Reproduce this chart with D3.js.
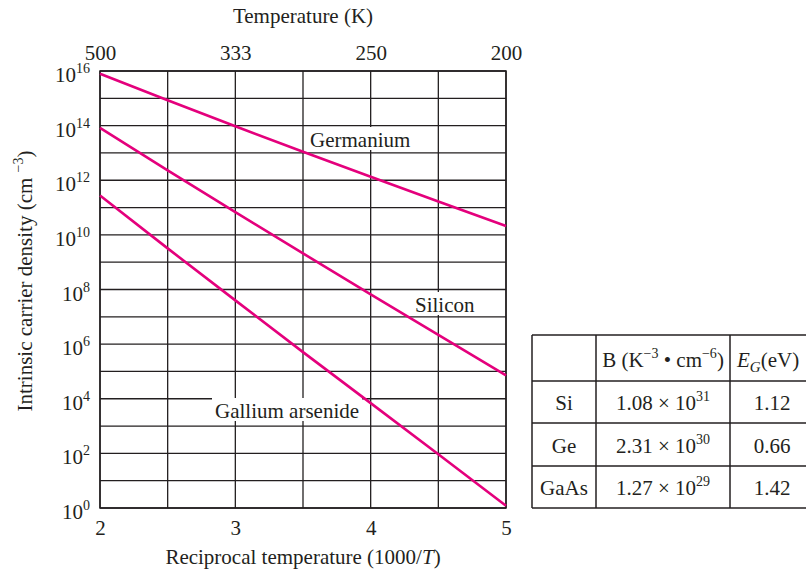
<!DOCTYPE html>
<html>
<head>
<meta charset="utf-8">
<script src="https://cdn.jsdelivr.net/npm/d3@7"></script>
<style>
  html, body { margin: 0; padding: 0; background: #fff; }
  svg { display: block; }
  text { font-family: "Liberation Serif", "Times New Roman", serif; fill: #231f20; }
</style>
</head>
<body>
<svg id="chart" width="806" height="571"></svg>
<script>
// ---- data ----
const recipT = [2, 2.5, 3, 3.5, 4, 4.5, 5];
const germanium = [7.9e15, 8.5e14, 9.5e13, 1.1e13, 1.35e12, 1.66e11, 2.1e10];
const silicon   = [8.3e13, 2.3e12, 6.8e10, 2.1e9, 6.6e7, 2.2e6, 7.2e4];
const gaas      = [2.75e11, 3.2e9, 4.0e7, 5.1e5, 6.9e3, 93, 1.2];
const seriesNames = ["Germanium", "Silicon", "Gallium arsenide"];

const xTicks = [2, 3, 4, 5];
const topTickLabels = ["500", "333", "250", "200"];
const gridX = [2, 2.5, 3, 3.5, 4, 4.5, 5];
const gridExp = d3.range(0, 17);
const yTickExp = [0, 2, 4, 6, 8, 10, 12, 14, 16];

const tableMaterials = ["Si", "Ge", "GaAs"];
const tableBMantissa = ["1.08", "2.31", "1.27"];
const tableBExp = ["31", "30", "29"];
const tableEg = ["1.12", "0.66", "1.42"];

// ---- layout ----
const L = 100, R = 506, T = 71, B = 508;
const FS = 21, SUP = 14;
const lineColor = "#e4007c";
const ink = "#231f20";

const svg = d3.select("#chart");
const x = d3.scaleLinear().domain([2, 5]).range([L, R]);
const y = d3.scaleLog().domain([1, 1e16]).range([B, T]);

// grid
const grid = svg.append("g").attr("stroke", ink).attr("stroke-width", 1.3);
grid.selectAll("line.v").data(gridX).join("line").attr("class", "v")
  .attr("x1", d => x(d)).attr("x2", d => x(d)).attr("y1", T).attr("y2", B);
grid.selectAll("line.h").data(gridExp).join("line").attr("class", "h")
  .attr("x1", L).attr("x2", R).attr("y1", d => y(Math.pow(10, d))).attr("y2", d => y(Math.pow(10, d)));
svg.append("rect").attr("x", L).attr("y", T).attr("width", R - L).attr("height", B - T)
  .attr("fill", "none").attr("stroke", ink).attr("stroke-width", 1.5);

// bottom axis labels
const bottomAxis = d3.axisBottom(x).tickValues(xTicks).tickSize(0).tickFormat(d3.format("d"));
const gb = svg.append("g").attr("transform", `translate(0,${B})`).call(bottomAxis);
gb.select(".domain").remove();
gb.selectAll("text").attr("font-size", FS).attr("font-family", null).attr("fill", ink)
  .attr("dy", null).attr("y", 27);

// top axis labels
const topAxis = d3.axisTop(x).tickValues(xTicks).tickSize(0)
  .tickFormat((d, i) => topTickLabels[i]);
const gt = svg.append("g").attr("transform", `translate(0,${T})`).call(topAxis);
gt.select(".domain").remove();
gt.selectAll("text").attr("font-size", FS).attr("font-family", null).attr("fill", ink)
  .attr("dy", null).attr("y", -11);

// y tick labels with superscripts
const yl = svg.append("g");
yTickExp.forEach(e => {
  const t = yl.append("text").attr("x", 90).attr("y", y(Math.pow(10, e)) + 11)
    .attr("text-anchor", "end").attr("font-size", FS);
  t.append("tspan").text("10");
  t.append("tspan").attr("font-size", SUP).attr("dy", -9).text(e);
});

// titles
svg.append("text").attr("x", (L + R) / 2).attr("y", 23).attr("text-anchor", "middle")
  .attr("font-size", FS).text("Temperature (K)");
const xt = svg.append("text").attr("x", (L + R) / 2).attr("y", 564).attr("text-anchor", "middle")
  .attr("font-size", FS);
xt.append("tspan").text("Reciprocal temperature (1000/");
xt.append("tspan").attr("font-style", "italic").text("T");
xt.append("tspan").text(")");

const yt = svg.append("text").attr("transform", "translate(32,281) rotate(-90)")
  .attr("text-anchor", "middle").attr("font-size", FS);
yt.append("tspan").text("Intrinsic carrier density (cm ");
yt.append("tspan").attr("font-size", SUP).attr("dy", -9).text("\u22123");
yt.append("tspan").attr("dy", 9).text(")");

// series labels with white backgrounds
const labelPos = [[310, 147], [415, 312], [215, 418]];
seriesNames.forEach((name, i) => {
  const g = svg.append("g");
  const t = g.append("text").attr("x", labelPos[i][0]).attr("y", labelPos[i][1])
    .attr("font-size", FS).text(name);
  const bb = t.node().getBBox();
  g.insert("rect", "text").attr("x", bb.x - 3).attr("y", labelPos[i][1] - 20)
    .attr("width", bb.width + 6).attr("height", 23).attr("fill", "#fff");
});

// curves
const line = d3.line().x(d => x(d[0])).y(d => y(d[1]));
[germanium, silicon, gaas].forEach(vals => {
  svg.append("path").datum(recipT.map((t, i) => [t, vals[i]]))
    .attr("d", line).attr("fill", "none").attr("stroke", lineColor).attr("stroke-width", 2.6);
});

// table
const colX = [532, 596, 730, 830];
const rowY = [335, 381, 423, 466, 508];
const tg = svg.append("g");
const tl = tg.append("g").attr("stroke", ink).attr("stroke-width", 1.5);
rowY.forEach(ry => tl.append("line").attr("x1", colX[0]).attr("x2", colX[3]).attr("y1", ry).attr("y2", ry));
colX.forEach(cx => tl.append("line").attr("x1", cx).attr("x2", cx).attr("y1", rowY[0]).attr("y2", rowY[4]));

const cMid = i => (colX[i] + colX[i + 1]) / 2;
const rBase = j => (rowY[j] + rowY[j + 1]) / 2 + 8;

// header
const h1 = tg.append("text").attr("x", cMid(1)).attr("y", rBase(0) + 1).attr("text-anchor", "middle").attr("font-size", FS);
h1.append("tspan").text("B (K");
h1.append("tspan").attr("font-size", SUP).attr("dy", -9).text("\u22123");
h1.append("tspan").attr("dy", 9).text(" \u2022 cm");
h1.append("tspan").attr("font-size", SUP).attr("dy", -9).text("\u22126");
h1.append("tspan").attr("dy", 9).text(")");
const h2 = tg.append("text").attr("x", 737).attr("y", rBase(0) + 1).attr("font-size", FS);
h2.append("tspan").attr("font-style", "italic").text("E");
h2.append("tspan").attr("font-style", "italic").attr("font-size", SUP + 1).attr("dy", 5).text("G");
h2.append("tspan").attr("dy", -5).text("(eV)");

tableMaterials.forEach((m, j) => {
  const by = rBase(j + 1);
  tg.append("text").attr("x", cMid(0)).attr("y", by).attr("text-anchor", "middle").attr("font-size", FS).text(m);
  const bt = tg.append("text").attr("x", cMid(1)).attr("y", by).attr("text-anchor", "middle").attr("font-size", FS);
  bt.append("tspan").text(tableBMantissa[j] + " \u00d7 10");
  bt.append("tspan").attr("font-size", SUP).attr("dy", -9).text(tableBExp[j]);
  tg.append("text").attr("x", 772).attr("y", by).attr("text-anchor", "middle").attr("font-size", FS).text(tableEg[j]);
});
</script>
</body>
</html>
